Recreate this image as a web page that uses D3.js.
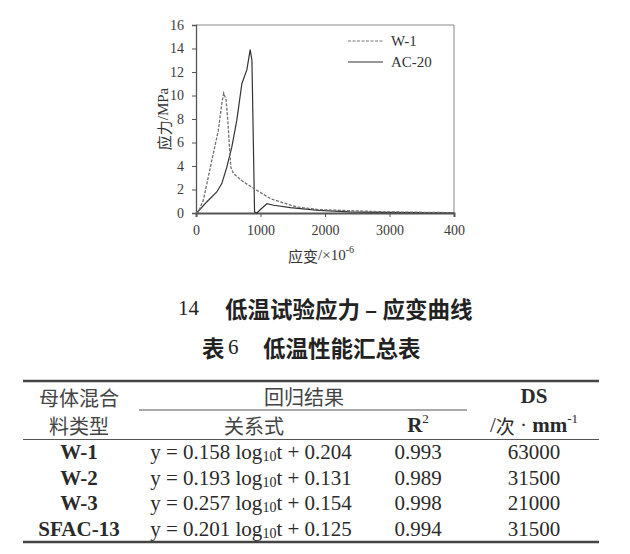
<!DOCTYPE html>
<html>
<head>
<meta charset="utf-8">
<script src="https://cdn.jsdelivr.net/npm/d3@7"></script>
<style>
  body { margin: 0; background: #fff; }
  svg { display: block; }
</style>
</head>
<body>
<svg id="chart"></svg>
<script>
// ===========================
// Data
// ===========================
const w1Strain = [0, 36, 114, 192, 270, 347, 400, 430, 467, 493, 519, 540, 581, 736, 944, 1152, 1307, 1567, 1904, 2390, 2910, 4000];
const w1Stress = [0, 0.08, 1.1, 3.1, 5.1, 7.05, 9.3, 10.2, 9.6, 7.9, 5.6, 3.9, 3.36, 2.64, 1.93, 1.23, 0.94, 0.51, 0.29, 0.2, 0.1, 0.03];

const acStrain = [10, 166, 322, 400, 478, 555, 633, 711, 789, 840, 867, 908, 944, 1000, 1100, 1204, 1463, 1904, 2390, 2900, 4000];
const acStress = [0, 0.94, 1.79, 2.5, 3.9, 5.6, 7.9, 11.0, 12.2, 13.9, 13.0, 0.08, 0, 0.3, 0.8, 0.66, 0.46, 0.23, 0.1, 0.05, 0.02];

const seriesNames = ["W-1", "AC-20"];
const xTickValues = [0, 1000, 2000, 3000, 4000];
const xTickLabels = ["0", "1000", "2000", "3000", "400"];
const yTickValues = [0, 2, 4, 6, 8, 10, 12, 14, 16];

// table
const tableTypes = ["W-1", "W-2", "W-3", "SFAC-13"];
const tableSlope = ["0.158", "0.193", "0.257", "0.201"];
const tableIntercept = ["0.204", "0.131", "0.154", "0.125"];
const tableR2 = ["0.993", "0.989", "0.998", "0.994"];
const tableDS = ["63000", "31500", "21000", "31500"];

// ===========================
// Layout
// ===========================
const W = 630, H = 554;
const serif = "'Liberation Serif', 'Times New Roman', serif";
const cjk = "'Noto Sans CJK SC', sans-serif";

const svg = d3.select("#chart")
  .attr("width", W)
  .attr("height", H)
  .style("background", "#fff");

const plot = { left: 196, right: 454, top: 25, bottom: 213 };

const x = d3.scaleLinear().domain([0, 4000]).range([plot.left, plot.right]);
const y = d3.scaleLinear().domain([0, 16]).range([plot.bottom, plot.top]);

// frame (top + right)
svg.append("path")
  .attr("d", `M${plot.left},${plot.top}H${plot.right}V${plot.bottom}`)
  .attr("fill", "none")
  .attr("stroke", "#888")
  .attr("stroke-width", 1);

// X axis
const xAxis = svg.append("g")
  .attr("transform", `translate(0,${plot.bottom})`)
  .call(d3.axisBottom(x).tickValues(xTickValues).tickSize(4).tickPadding(8)
    .tickFormat((d, i) => xTickLabels[i]));
xAxis.select(".domain").attr("stroke", "#555").attr("stroke-width", 2);
xAxis.selectAll(".tick line").attr("stroke", "#555");
xAxis.selectAll("text")
  .style("font-family", serif)
  .style("font-size", "14px")
  .attr("fill", "#3a3a3a");

// Y axis
const yAxis = svg.append("g")
  .attr("transform", `translate(${plot.left},0)`)
  .call(d3.axisLeft(y).tickValues(yTickValues).tickSize(4).tickPadding(8));
yAxis.select(".domain").attr("stroke", "#555").attr("stroke-width", 1.3);
yAxis.selectAll(".tick line").attr("stroke", "#555");
yAxis.selectAll("text")
  .style("font-family", serif)
  .style("font-size", "14px")
  .attr("fill", "#3a3a3a");

// Axis labels
svg.append("text")
  .attr("x", 288)
  .attr("y", 255)
  .attr("dominant-baseline", "central")
  .style("font-size", "15px")
  .attr("fill", "#333")
  .call(t => {
    t.append("tspan").style("font-family", cjk).text("应变");
    t.append("tspan").style("font-family", serif).text("/×10");
    t.append("tspan").style("font-family", serif).style("font-size", "10px").attr("dy", -6).text("-6");
  });

svg.append("text")
  .attr("transform", `translate(163,${(plot.top + plot.bottom) / 2}) rotate(-90)`)
  .attr("text-anchor", "middle")
  .attr("dominant-baseline", "central")
  .style("font-size", "15px")
  .attr("fill", "#333")
  .call(t => {
    t.append("tspan").style("font-family", cjk).text("应力");
    t.append("tspan").style("font-family", serif).text("/MPa");
  });

// Lines
const line = d3.line()
  .x(d => x(d[0]))
  .y(d => y(d[1]));

const w1Data = w1Strain.map((s, i) => [s, w1Stress[i]]);
const acData = acStrain.map((s, i) => [s, acStress[i]]);

svg.append("path")
  .datum(acData)
  .attr("d", line)
  .attr("fill", "none")
  .attr("stroke", "#333")
  .attr("stroke-width", 1.2);

svg.append("path")
  .datum(w1Data)
  .attr("d", line)
  .attr("fill", "none")
  .attr("stroke", "#707070")
  .attr("stroke-width", 1.3)
  .attr("stroke-dasharray", "3,1.5");

// Legend
const legendRows = [
  { name: seriesNames[0], dash: "3,1.5", color: "#777", y: 41 },
  { name: seriesNames[1], dash: null, color: "#333", y: 62 }
];
legendRows.forEach(r => {
  svg.append("line")
    .attr("x1", 348).attr("x2", 383)
    .attr("y1", r.y).attr("y2", r.y)
    .attr("stroke", r.color)
    .attr("stroke-width", r.dash ? 1 : 1.2)
    .attr("stroke-dasharray", r.dash);
  svg.append("text")
    .attr("x", 391)
    .attr("y", r.y)
    .attr("dominant-baseline", "central")
    .style("font-family", serif)
    .style("font-size", "15px")
    .attr("fill", "#333")
    .text(r.name);
});

// ===========================
// Captions
// ===========================
svg.append("text")
  .attr("x", 178).attr("y", 308)
  .attr("dominant-baseline", "central")
  .style("font-family", serif).style("font-size", "21px")
  .attr("fill", "#222")
  .text("14");
svg.append("text")
  .attr("x", 225).attr("y", 308)
  .attr("dominant-baseline", "central")
  .style("font-family", cjk).style("font-size", "22.5px").style("font-weight", "bold")
  .attr("fill", "#222")
  .text("低温试验应力 – 应变曲线");

svg.append("text")
  .attr("x", 202).attr("y", 347)
  .attr("dominant-baseline", "central")
  .style("font-family", cjk).style("font-size", "22.5px").style("font-weight", "bold")
  .attr("fill", "#222")
  .text("表");
svg.append("text")
  .attr("x", 228).attr("y", 347)
  .attr("dominant-baseline", "central")
  .style("font-family", serif).style("font-size", "21px")
  .attr("fill", "#222")
  .text("6");
svg.append("text")
  .attr("x", 263).attr("y", 347)
  .attr("dominant-baseline", "central")
  .style("font-family", cjk).style("font-size", "22.5px").style("font-weight", "bold")
  .attr("fill", "#222")
  .text("低温性能汇总表");

// ===========================
// Table
// ===========================
const tbl = { left: 23, right: 599, top: 381, headMid: 410, headBottom: 439.5, bottom: 542 };
const col = { type: 79, eq: 251, r2: 418, ds: 534 };
const tableSize = "21px";

svg.append("line").attr("x1", tbl.left).attr("x2", tbl.right)
  .attr("y1", tbl.top).attr("y2", tbl.top).attr("stroke", "#444").attr("stroke-width", 2.5);
svg.append("line").attr("x1", 139).attr("x2", 467)
  .attr("y1", tbl.headMid).attr("y2", tbl.headMid).attr("stroke", "#555").attr("stroke-width", 1.2);
svg.append("line").attr("x1", tbl.left).attr("x2", tbl.right)
  .attr("y1", tbl.headBottom).attr("y2", tbl.headBottom).attr("stroke", "#555").attr("stroke-width", 1.2);
svg.append("line").attr("x1", tbl.left).attr("x2", tbl.right)
  .attr("y1", tbl.bottom).attr("y2", tbl.bottom).attr("stroke", "#444").attr("stroke-width", 2.5);

function cell(xp, yp, family, size, weight) {
  return svg.append("text")
    .attr("x", xp).attr("y", yp)
    .attr("text-anchor", "middle")
    .attr("dominant-baseline", "central")
    .style("font-family", family)
    .style("font-size", size)
    .style("font-weight", weight || "normal")
    .attr("fill", "#2a2a2a");
}

// header
cell(col.type, 397, cjk, "20px").attr("fill", "#444").text("母体混合");
cell(col.type, 425, cjk, "20px").attr("fill", "#444").text("料类型");
cell(304, 396, cjk, "20px").attr("fill", "#444").text("回归结果");
cell(254, 425, cjk, "20px").attr("fill", "#444").text("关系式");
cell(col.r2, 425, serif, tableSize, "bold")
  .call(t => {
    t.append("tspan").text("R");
    t.append("tspan").style("font-size", "13px").style("font-weight", "normal").attr("dy", -7).text("2");
  });
cell(col.ds, 396, serif, tableSize, "bold").text("DS");
cell(col.ds, 425, serif, tableSize)
  .call(t => {
    t.append("tspan").text("/");
    t.append("tspan").style("font-family", cjk).style("font-size", "19px").text("次");
    t.append("tspan").text(" · ");
    t.append("tspan").style("font-weight", "bold").text("mm");
    t.append("tspan").style("font-size", "13px").attr("dy", -7).text("-1");
  });

// body rows
const rowY = d3.scalePoint().domain(tableTypes).range([452, 529]);
tableTypes.forEach((name, i) => {
  const yy = rowY(name);
  cell(col.type, yy, serif, tableSize, "bold").text(name);
  cell(col.eq, yy, serif, tableSize)
    .call(t => {
      t.append("tspan").text(`y = ${tableSlope[i]} log`);
      t.append("tspan").style("font-size", "14px").attr("dy", 4).text("10");
      t.append("tspan").attr("dy", -4).text(`t + ${tableIntercept[i]}`);
    });
  cell(col.r2, yy, serif, tableSize).text(tableR2[i]);
  cell(col.ds, yy, serif, tableSize).text(tableDS[i]);
});
</script>
</body>
</html>
